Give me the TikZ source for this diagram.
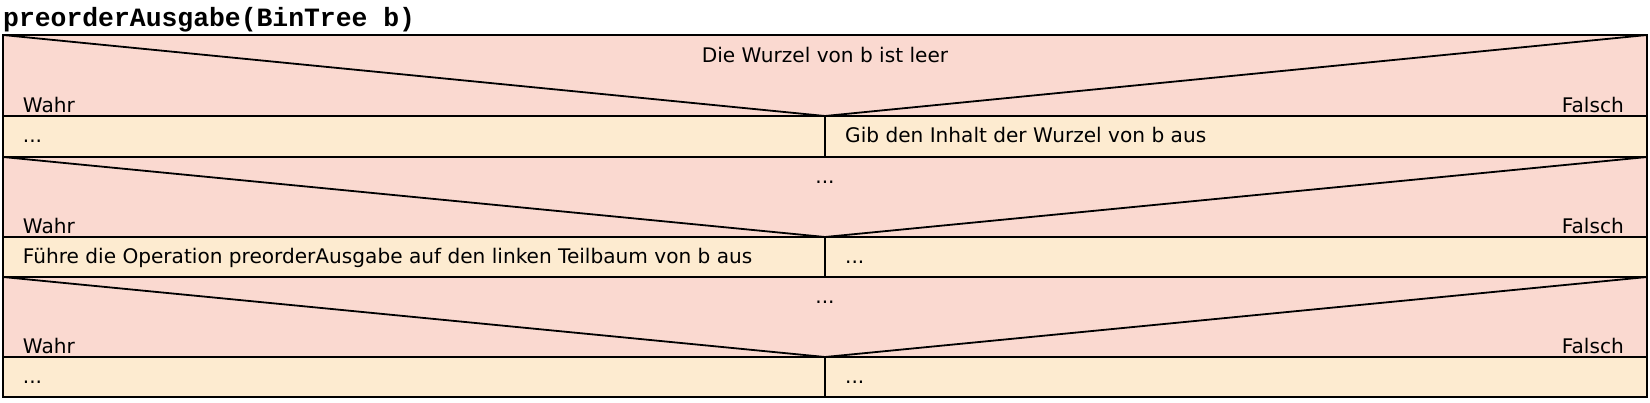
\documentclass[tikz,border=0pt]{standalone}
\usepackage{fontspec}
\setmainfont{DejaVu Sans}
\newfontfamily\titlefont{Liberation Mono}
\definecolor{condpink}{HTML}{FAD9D0}
\definecolor{rowbeige}{HTML}{FDEBD0}
\tikzset{
  txt/.style={font=\fontsize{20.1}{24}\selectfont, inner sep=0pt},
  lefttxt/.style={txt, anchor=base west},
  righttxt/.style={txt, anchor=base east},
  midtxt/.style={txt, anchor=base},
  frame/.style={line width=1.8pt, draw=black, line join=miter},
}
\begin{document}
\begin{tikzpicture}[x=1pt,y=-1pt]
\useasboundingbox (0,0) rectangle (1650,402);
\fill[white] (0,0) rectangle (1650,402);
\node[anchor=base west, inner sep=0pt, font=\titlefont\bfseries\fontsize{26.4}{30}\selectfont] (title) at (3,26.7) {preorderAusgabe(BinTree b)};
% block geometry: condition top, condition bottom, row bottom
\foreach \ct/\cb/\rb [count=\i] in {35/116/157, 157/237/277, 277/357/397}{
  \coordinate (tl\i) at (3,\ct);
  \coordinate (tr\i) at (1647,\ct);
  \coordinate (apex\i) at (825,\cb);
  \coordinate (cbl\i) at (3,\cb);
  \coordinate (cbr\i) at (1647,\cb);
  \coordinate (rbl\i) at (3,\rb);
  \coordinate (rbr\i) at (1647,\rb);
  \coordinate (rbm\i) at (825,\rb);
  \fill[condpink] (tl\i) rectangle (cbr\i);
  \fill[rowbeige] (cbl\i) rectangle (rbr\i);
}
\foreach \i in {1,2,3}{
  \draw[frame] (tl\i) -- (apex\i) -- (tr\i);
  \draw[frame] (cbl\i) -- (cbr\i);
  \draw[frame] (apex\i) -- (rbm\i);
  \draw[frame] (rbl\i) -- (rbr\i);
}
\draw[frame] (tl1) rectangle (rbr3);
% texts
\node[midtxt] (c1) at (825,62.7) {Die Wurzel von b ist leer};
\node[midtxt] (c2) at (825,183) {...};
\node[midtxt] (c3) at (825,303) {...};
\foreach \y [count=\i] in {112.5,233.5,353.5}{
  \node[lefttxt] (wahr\i) at (22.7,\y) {Wahr};
  \node[righttxt] (falsch\i) at (1624,\y) {Falsch};
}
\node[lefttxt] (r1l) at (22.7,142.3) {...};
\node[lefttxt] (r1r) at (845,142.3) {Gib den Inhalt der Wurzel von b aus};
\node[lefttxt] (r2l) at (22.7,263.3) {Führe die Operation preorderAusgabe auf den linken Teilbaum von b aus};
\node[lefttxt] (r2r) at (845,263.3) {...};
\node[lefttxt] (r3l) at (22.7,383) {...};
\node[lefttxt] (r3r) at (845,383) {...};
\end{tikzpicture}
\end{document}
